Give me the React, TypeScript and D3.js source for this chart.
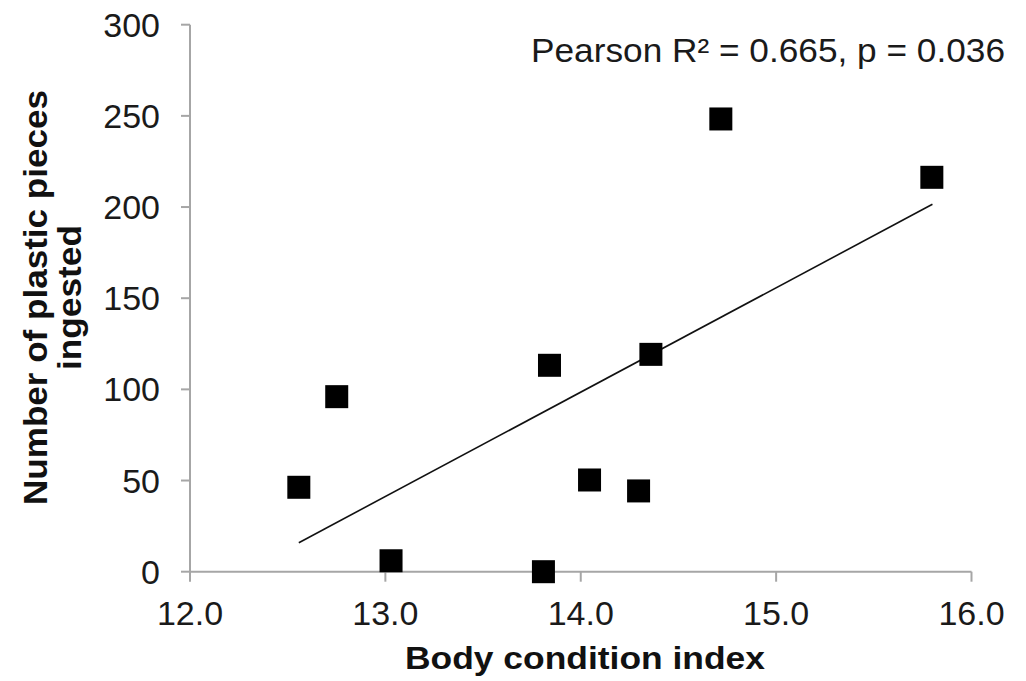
import React from "react";
import * as d3 from "d3";

const bodyIndex = [12.557, 12.751, 13.029, 13.809, 13.84, 14.045, 14.296, 14.359, 14.717, 15.797];
const plasticPieces = [46.3, 96.0, 6.0, 0, 113.2, 50.3, 44.3, 119.2, 248.3, 216.3];
const trendX = [12.557, 15.8];
const trendY = [15.9, 201.5];
const xTicks = [12, 13, 14, 15, 16];
const yTicks = [0, 50, 100, 150, 200, 250, 300];
const statText = "Pearson R\u00B2 = 0.665, p = 0.036";
const xTitle = "Body condition index";
const yTitleLines = ["Number of plastic pieces", "ingested"];

const W = 1026;
const H = 681;
const FONT = "Liberation Sans, Arial, Helvetica, sans-serif";

export default function App() {
  const x = d3.scaleLinear().domain([12, 16]).range([190, 971.5]);
  const y = d3.scaleLinear().domain([0, 300]).range([571.7, 24.7]);
  const line = d3
    .line<number>()
    .x((d) => x(d))
    .y((_, i) => y(trendY[i]));
  const axisColor = "#a6a6a6";
  const sq = 23;
  return (
    <svg
      width={W}
      height={H}
      style={{ position: "absolute", left: 0, top: 0, background: "#fff" }}
      fontFamily={FONT}
    >
      <rect width={W} height={H} fill="#fff" />
      {/* axes */}
      <line x1={x(12)} x2={x(12)} y1={y(0)} y2={y(300)} stroke={axisColor} strokeWidth={2} />
      <line x1={x(12)} x2={x(16)} y1={y(0)} y2={y(0)} stroke={axisColor} strokeWidth={2} />
      {yTicks.map((t) => (
        <g key={"y" + t}>
          <line x1={x(12) - 9} x2={x(12)} y1={y(t)} y2={y(t)} stroke={axisColor} strokeWidth={2} />
          <text x={160} y={y(t) + 12} textAnchor="end" fontSize={34} fill="#1a1a1a">
            {t}
          </text>
        </g>
      ))}
      {xTicks.map((t) => (
        <g key={"x" + t}>
          <line x1={x(t)} x2={x(t)} y1={y(0)} y2={y(0) + 10} stroke={axisColor} strokeWidth={2} />
          <text x={x(t)} y={625} textAnchor="middle" fontSize={34} fill="#1a1a1a">
            {d3.format(".1f")(t)}
          </text>
        </g>
      ))}
      {/* trend line */}
      <path d={line(trendX) || ""} fill="none" stroke="#111" strokeWidth={1.6} />
      {/* points */}
      {bodyIndex.map((b, i) => (
        <rect
          key={i}
          x={x(b) - sq / 2}
          y={y(plasticPieces[i]) - sq / 2}
          width={sq}
          height={sq}
          fill="#000"
        />
      ))}
      {/* stat label */}
      <text
        x={531}
        y={62}
        fontSize={33}
        fill="#1a1a1a"
        textLength={474}
        lengthAdjust="spacingAndGlyphs"
      >
        {statText}
      </text>
      {/* x title */}
      <text
        x={405}
        y={669}
        fontSize={32}
        fontWeight="bold"
        fill="#111"
        textLength={360}
        lengthAdjust="spacingAndGlyphs"
      >
        {xTitle}
      </text>
      {/* y title */}
      <g transform="translate(47,297.5) rotate(-90)">
        <text
          x={-207.5}
          y={0}
          fontSize={33}
          fontWeight="bold"
          fill="#111"
          textLength={415}
          lengthAdjust="spacingAndGlyphs"
        >
          {yTitleLines[0]}
        </text>
        <text
          x={-72.5}
          y={34}
          fontSize={33}
          fontWeight="bold"
          fill="#111"
          textLength={145}
          lengthAdjust="spacingAndGlyphs"
        >
          {yTitleLines[1]}
        </text>
      </g>
    </svg>
  );
}
